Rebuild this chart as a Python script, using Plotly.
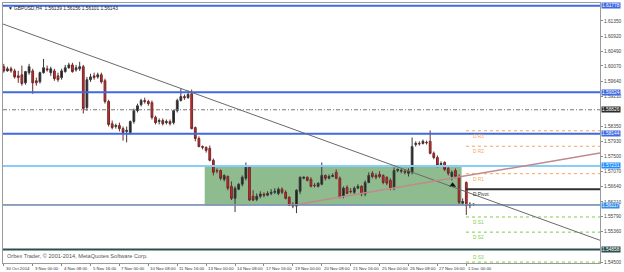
import plotly.graph_objects as go

# ---------------- data ----------------
bars = list(range(131))
open_ = [1.6005,1.5993,1.5999,1.5993,1.5979,1.5982,1.5959,1.5988,1.5993,1.5965,
         1.5962,1.5988,1.5999,1.5988,1.5993,1.5979,1.5974,1.5991,1.6002,1.6010,
         1.5996,1.5999,1.6005,1.5889,1.5968,1.5979,1.5976,1.5982,1.5965,1.5906,
         1.5843,1.5835,1.5838,1.5829,1.5821,1.5818,1.5849,1.5880,1.5897,1.5909,
         1.5906,1.5903,1.5861,1.5849,1.5852,1.5846,1.5849,1.5846,1.5880,1.5909,
         1.5920,1.5917,1.5928,1.5832,1.5801,1.5778,1.5776,1.5773,1.5739,1.5710,
         1.5710,1.5685,1.5693,1.5665,1.5631,1.5657,1.5671,1.5688,1.5719,1.5637,
         1.5628,1.5637,1.5643,1.5640,1.5645,1.5648,1.5645,1.5657,1.5648,1.5634,
         1.5614,1.5609,1.5651,1.5688,1.5691,1.5685,1.5668,1.5665,1.5671,1.5696,
         1.5688,1.5693,1.5705,1.5688,1.5637,1.5662,1.5651,1.5648,1.5660,1.5665,
         1.5643,1.5676,1.5702,1.5696,1.5699,1.5696,1.5691,1.5682,1.5660,1.5710,
         1.5708,1.5708,1.5702,1.5705,1.5784,1.5787,1.5787,1.5790,1.5793,1.5759,
         1.5747,1.5727,1.5733,1.5716,1.5693,1.5710,1.5693,1.5617,1.5676,1.5611,
         1.56139]
high = [1.6013,1.6005,1.6005,1.5999,1.5993,1.6008,1.5993,1.6013,1.5999,1.5974,
        1.5991,1.6027,1.6008,1.6005,1.5999,1.5988,1.5999,1.6010,1.6016,1.6016,
        1.6010,1.6019,1.6010,1.5976,1.5985,1.5988,1.5988,1.5988,1.5971,1.5911,
        1.5852,1.5843,1.5846,1.5835,1.5835,1.5852,1.5886,1.5900,1.5914,1.5917,
        1.5911,1.5909,1.5866,1.5858,1.5858,1.5855,1.5855,1.5883,1.5914,1.5943,
        1.5926,1.5937,1.5940,1.5835,1.5807,1.5781,1.5778,1.5781,1.5744,1.5716,
        1.5713,1.5699,1.5696,1.5679,1.5665,1.5674,1.5696,1.5733,1.5722,1.5654,
        1.5645,1.5651,1.5648,1.5651,1.5657,1.5660,1.5662,1.5662,1.5654,1.5637,
        1.5620,1.5657,1.5693,1.5693,1.5693,1.5691,1.5674,1.5676,1.5733,1.5699,
        1.5699,1.5702,1.5713,1.5693,1.5665,1.5668,1.5660,1.5665,1.5671,1.5668,
        1.5682,1.5705,1.5708,1.5702,1.5708,1.5699,1.5693,1.5688,1.5719,1.5716,
        1.5716,1.5713,1.5716,1.5804,1.5793,1.5793,1.5798,1.5795,1.5824,1.5764,
        1.5753,1.5736,1.5736,1.5722,1.5710,1.5716,1.5699,1.5631,1.5679,1.5620,
        1.56156]
low = [1.5988,1.5991,1.5988,1.5971,1.5959,1.5951,1.5954,1.5982,1.5928,1.5951,
       1.5957,1.5985,1.5991,1.5979,1.5965,1.5962,1.5968,1.5988,1.5999,1.5988,
       1.5991,1.5993,1.5872,1.5880,1.5962,1.5968,1.5971,1.5957,1.5900,1.5835,
       1.5827,1.5829,1.5821,1.5795,1.5790,1.5812,1.5843,1.5875,1.5892,1.5900,
       1.5894,1.5855,1.5841,1.5841,1.5838,1.5841,1.5838,1.5841,1.5875,1.5906,
       1.5911,1.5914,1.5827,1.5793,1.5776,1.5770,1.5761,1.5736,1.5696,1.5702,
       1.5682,1.5679,1.5654,1.5626,1.5592,1.5654,1.5665,1.5682,1.5623,1.5623,
       1.5623,1.5631,1.5634,1.5637,1.5640,1.5643,1.5640,1.5643,1.5628,1.5609,
       1.5603,1.5589,1.5643,1.5685,1.5679,1.5662,1.5662,1.5662,1.5668,1.5682,
       1.5685,1.5691,1.5685,1.5631,1.5631,1.5643,1.5645,1.5643,1.5657,1.5637,
       1.5637,1.5674,1.5688,1.5685,1.5688,1.5671,1.5668,1.5654,1.5654,1.5705,
       1.5702,1.5699,1.5693,1.5699,1.5778,1.5781,1.5784,1.5784,1.5756,1.5742,
       1.5719,1.5722,1.5708,1.5696,1.5682,1.5688,1.5614,1.5611,1.5584,1.5603,
       1.56101]
close = [1.5993,1.5999,1.5993,1.5976,1.5974,1.5957,1.5991,1.6005,1.5959,1.5959,
         1.5988,1.6002,1.5996,1.5999,1.5971,1.5968,1.5993,1.6002,1.6010,1.5991,
         1.6002,1.6005,1.5886,1.5968,1.5976,1.5974,1.5982,1.5962,1.5906,1.5841,
         1.5832,1.5838,1.5829,1.5818,1.5824,1.5849,1.5880,1.5894,1.5909,1.5906,
         1.5900,1.5861,1.5846,1.5852,1.5843,1.5849,1.5843,1.5880,1.5909,1.5920,
         1.5917,1.5926,1.5829,1.5801,1.5778,1.5776,1.5767,1.5739,1.5705,1.5709,
         1.5688,1.5696,1.5660,1.5631,1.5660,1.5671,1.5691,1.5719,1.5626,1.5626,
         1.5637,1.5643,1.5640,1.5645,1.5648,1.5651,1.5657,1.5648,1.5631,1.5611,
         1.5609,1.5654,1.5691,1.5691,1.5682,1.5665,1.5667,1.5674,1.5696,1.5688,
         1.5693,1.5696,1.5688,1.5634,1.5660,1.5645,1.5650,1.5660,1.5665,1.5643,
         1.5676,1.5696,1.5693,1.5691,1.5693,1.5676,1.5674,1.5660,1.5710,1.5713,
         1.5710,1.5705,1.5708,1.5778,1.5787,1.5786,1.5793,1.5789,1.5759,1.5747,
         1.5725,1.5730,1.5713,1.5702,1.5705,1.5693,1.5620,1.5622,1.5611,1.5614,
         1.56143]

time_tick_bars = [0, 8, 16, 24, 32, 40, 48, 56, 64, 72, 80, 88, 96, 104, 112, 120, 128]
time_tick_labels = ["30 Oct 2014", "3 Nov 00:00", "4 Nov 08:00", "5 Nov 16:00", "7 Nov 00:00",
                    "10 Nov 08:00", "11 Nov 16:00", "13 Nov 00:00", "14 Nov 08:00", "17 Nov 16:00",
                    "19 Nov 00:00", "20 Nov 08:00", "21 Nov 16:00", "25 Nov 00:00", "26 Nov 08:00",
                    "27 Nov 16:00", "1 Dec 00:00"]
price_ticks = [1.61350, 1.60920, 1.60490, 1.60070, 1.59640, 1.59210,
               1.58350, 1.57930, 1.57500, 1.57070, 1.56640, 1.56210, 1.55790, 1.55360,
               1.54500]

# horizontal levels (price) and their styles
level_prices = [1.61778, 1.59324, 1.58144, 1.58826, 1.57231, 1.56132, 1.56117, 1.54858]
level_colors = ['#4169e1', '#4169e1', '#4169e1', '#777777', '#87cefa', '#b4a594', '#4a7fc0', '#2f4f4f']
level_widths = [2, 2, 2, 1, 2, 1, 1, 2]
level_dash = ['solid', 'solid', 'solid', '4px,2px,1px,2px', 'solid', 'solid', 'solid', 'solid']

# price-axis highlighted labels
tag_prices = [1.61778, 1.59324, 1.58826, 1.58144, 1.57231, 1.56117, 1.54858]
tag_colors = ['#4169e1', '#4169e1', '#2b2b2b', '#4169e1', '#1e90ff', '#3a8ee6', '#2f4f4f']

# daily pivot levels
pivot_names = ["D R3", "D R2", "D R1", "D Pivot", "D S1", "D S2", "D S3"]
pivot_prices = [1.5823, 1.5779, 1.5701, 1.5657, 1.5578, 1.5535, 1.5450]
pivot_colors = ['#f4a460', '#f4a460', '#f4a460', '#303030', '#7ccd4a', '#7ccd4a', '#7ccd4a']
pivot_start_bar = 127.9

# rectangle and trend lines
box_bars = [55.6, 126.7]
box_prices = [1.56117, 1.57231]
trend1_bars = [-0.22, 165.0]
trend1_prices = [1.61262, 1.55118]
trend2_bars = [81.4, 165.0]
trend2_prices = [1.56143, 1.57595]
arrow_bar = [124.2]
arrow_price = [1.5668]

x_range = [-0.22, 165.0]
y_range = [1.54473, 1.61859]

FONT = "Liberation Sans"

fig = go.Figure()
fig.add_trace(go.Candlestick(
    x=bars, open=open_, high=high, low=low, close=close,
    increasing=dict(line=dict(color='#3a3a3a', width=1), fillcolor='#1c1c1c'),
    decreasing=dict(line=dict(color='#6e2a2a', width=1), fillcolor='#e02424'),
    whiskerwidth=0, showlegend=False, hoverinfo='skip'))

fig.add_trace(go.Scatter(x=arrow_bar, y=arrow_price, mode='markers',
                         marker=dict(symbol='triangle-up', size=6, color='#111111'),
                         showlegend=False, hoverinfo='skip'))

shapes = []
shapes.append(dict(type='rect', xref='x', yref='y', x0=box_bars[0], x1=box_bars[1],
                   y0=box_prices[0], y1=box_prices[1], fillcolor='#8fbc8f',
                   line=dict(width=0), layer='below'))
for p, c, w, d in zip(level_prices, level_colors, level_widths, level_dash):
    shapes.append(dict(type='line', xref='paper', yref='y', x0=0, x1=1, y0=p, y1=p,
                       line=dict(color=c, width=w, dash=d), layer='above'))
for p, c, n in zip(pivot_prices, pivot_colors, pivot_names):
    dash = 'solid' if n == "D Pivot" else 'dot'
    width = 2 if n == "D Pivot" else 1
    shapes.append(dict(type='line', xref='x', yref='y', x0=pivot_start_bar, x1=x_range[1],
                       y0=p, y1=p, line=dict(color=c, width=width, dash=dash), layer='above'))
shapes.append(dict(type='line', xref='x', yref='y', x0=trend1_bars[0], x1=trend1_bars[1],
                   y0=trend1_prices[0], y1=trend1_prices[1],
                   line=dict(color='#6a6a6a', width=1), layer='above'))
shapes.append(dict(type='line', xref='x', yref='y', x0=trend2_bars[0], x1=trend2_bars[1],
                   y0=trend2_prices[0], y1=trend2_prices[1],
                   line=dict(color='#c08a8a', width=1.5), layer='above'))

annotations = []
for b, t in zip(time_tick_bars, time_tick_labels):
    annotations.append(dict(x=b, y=0, xref='x', yref='paper', text=t, showarrow=False,
                            xanchor='left', yanchor='top', xshift=0, yshift=-1,
                            font=dict(family=FONT, size=4.3, color='#333333')))
for p, c in zip(tag_prices, tag_colors):
    annotations.append(dict(x=1, y=p, xref='paper', yref='y', text=f"{p:.5f}", showarrow=False,
                            xanchor='left', yanchor='middle', xshift=1, bgcolor=c, borderpad=0,
                            font=dict(family=FONT, size=4.8, color='#ffffff')))
for p, c, n in zip(pivot_prices, pivot_colors, pivot_names):
    below = n != "D S3"
    annotations.append(dict(x=pivot_start_bar + 1.5, y=p, xref='x', yref='y', text=n,
                            showarrow=False, xanchor='left',
                            yanchor='top' if below else 'bottom',
                            yshift=-1 if below else 0,
                            font=dict(family=FONT, size=4.8, color=c)))
annotations.append(dict(x=0, y=1, xref='paper', yref='paper',
                        text="▼ GBPUSD,H4  1.56139 1.56156 1.56101 1.56143", showarrow=False,
                        xanchor='left', yanchor='top', xshift=3, yshift=-1,
                        font=dict(family=FONT, size=4.8, color='#222222')))
annotations.append(dict(x=0, y=0.028, xref='paper', yref='paper',
                        text="Orbex Trader, © 2001-2014, MetaQuotes Software Corp.", showarrow=False,
                        xanchor='left', yanchor='middle', xshift=2,
                        font=dict(family=FONT, size=5.6, color='#555555')))

fig.update_layout(
    width=624, height=272,
    margin=dict(l=2, r=19, t=2, b=9),
    paper_bgcolor='white', plot_bgcolor='white',
    shapes=shapes, annotations=annotations,
    showlegend=False,
    xaxis=dict(range=x_range, rangeslider=dict(visible=False), showgrid=False, zeroline=False,
               tickvals=time_tick_bars, showticklabels=False, ticks='outside', ticklen=2,
               tickcolor='#888888', showline=True, linecolor='#9a9a9a', linewidth=1, mirror=True),
    yaxis=dict(range=y_range, side='right', showgrid=False, zeroline=False,
               tickvals=price_ticks, ticktext=[f"{v:.5f}" for v in price_ticks],
               ticks='outside', ticklen=2, tickcolor='#888888',
               tickfont=dict(family=FONT, size=4.8, color='#444444'),
               showline=True, linecolor='#9a9a9a', linewidth=1, mirror=True),
)

fig.write_html("out.html")
